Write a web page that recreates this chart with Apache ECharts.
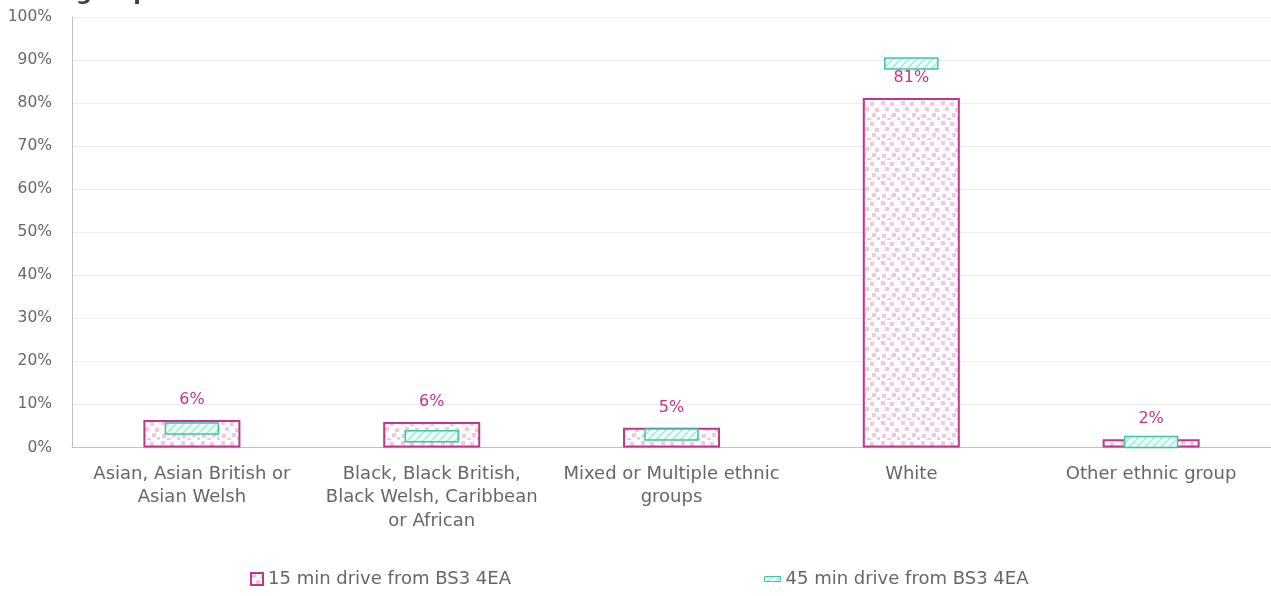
<!DOCTYPE html>
<html>
<head>
<meta charset="utf-8">
<script src="https://cdn.jsdelivr.net/npm/echarts@6/dist/echarts.min.js"></script>
<style>
html,body{margin:0;padding:0;background:#fff;}
#chart{width:1271px;height:596px;}
</style>
</head>
<body>
<div id="chart"></div>
<script>
const categories = [
  "Asian, Asian British or\nAsian Welsh",
  "Black, Black British,\nBlack Welsh, Caribbean\nor African",
  "Mixed or Multiple ethnic\ngroups",
  "White",
  "Other ethnic group"
];
const seriesNames = ["15 min drive from BS3 4EA", "45 min drive from BS3 4EA"];
const drive15 = [6.4, 5.9, 4.6, 81.2, 1.9];
const drive45 = [4.4, 2.6, 3.0, 89.2, 1.3];
const yTicks = [0, 10, 20, 30, 40, 50, 60, 70, 80, 90, 100];

const FONT = "DejaVu Sans";
const PINK = "#c0358e";
const GREEN = "#3dc4a3";
const TEXT = "#666666";

function pinkPattern() {
  const c = document.createElement("canvas");
  c.width = 20; c.height = 20;
  const g = c.getContext("2d");
  g.fillStyle = "#ffffff"; g.fillRect(0, 0, 20, 20);
  g.fillStyle = "#f3c6e1";
  const pts = [[1,1],[10,2],[15,8],[5,7],[12,13],[2,14],[17,17],[7,18]];
  pts.forEach(p => g.fillRect(p[0], p[1], 4, 4));
  return c;
}
function greenPattern() {
  const c = document.createElement("canvas");
  c.width = 8; c.height = 8;
  const g = c.getContext("2d");
  g.fillStyle = "#effcf8"; g.fillRect(0, 0, 8, 8);
  g.strokeStyle = "#b5ecdc"; g.lineWidth = 2;
  for (let k = -8; k <= 16; k += 8) {
    g.beginPath(); g.moveTo(k, 8); g.lineTo(k + 8, 0); g.stroke();
  }
  return c;
}
const pinkFill = { image: pinkPattern(), repeat: "repeat" };
const greenFill = { image: greenPattern(), repeat: "repeat" };

const chart = echarts.init(document.getElementById("chart"));
chart.setOption({
  animation: false,
  textStyle: { fontFamily: FONT },
  graphic: [{
    type: "text", left: 76, top: -17,
    style: { text: "groups", font: "bold 22px " + FONT, fill: "#404040" }
  }],
  grid: { left: 72, right: 0, top: 17, bottom: 148.5, containLabel: false },
  legend: [{
    data: [{ name: seriesNames[0], icon: "rect" }],
    left: 245, top: 565, itemWidth: 12, itemHeight: 12, itemGap: 4,
    textStyle: { color: TEXT, fontSize: 18, fontFamily: FONT }
  }, {
    data: [{ name: seriesNames[1], icon: "rect", itemStyle: { color: greenFill, borderColor: GREEN, borderWidth: 1 } }],
    left: 759, top: 565, itemWidth: 16, itemHeight: 5, itemGap: 4,
    textStyle: { color: TEXT, fontSize: 18, fontFamily: FONT }
  }],
  xAxis: {
    type: "category", data: categories,
    axisLine: { lineStyle: { color: "#bfbfbf", width: 1 } },
    axisTick: { show: false },
    axisLabel: { color: TEXT, fontSize: 18, lineHeight: 23.5, margin: 15, interval: 0, fontFamily: FONT }
  },
  yAxis: {
    type: "value", min: 0, max: 100, interval: 10,
    axisLine: { show: true, lineStyle: { color: "#bfbfbf", width: 1 } },
    axisTick: { show: false },
    splitLine: { lineStyle: { color: "#ececec", width: 1 } },
    axisLabel: {
      color: TEXT, fontSize: 15.5, margin: 20, fontFamily: FONT,
      formatter: v => (yTicks.indexOf(v) >= 0 ? v + "%" : "")
    }
  },
  series: [{
    name: seriesNames[0], type: "bar", data: drive15, barWidth: 97,
    itemStyle: { color: pinkFill, borderColor: PINK, borderWidth: 2 },
    label: {
      show: true, position: "top", distance: 12, color: PINK, fontSize: 16, fontFamily: FONT,
      formatter: p => Math.round(p.value) + "%"
    },
    z: 2
  }, {
    name: seriesNames[1], type: "custom", z: 3,
    data: drive45.map((v, i) => [i, v]),
    itemStyle: { color: greenFill, borderColor: GREEN },
    renderItem: (params, api) => {
      const c = api.coord([api.value(0), api.value(1)]);
      return {
        type: "rect",
        shape: { x: c[0] - 26.5, y: c[1] - 5.5, width: 53, height: 11 },
        style: { fill: greenFill, stroke: GREEN, lineWidth: 1.5 }
      };
    }
  }]
});
</script>
</body>
</html>
